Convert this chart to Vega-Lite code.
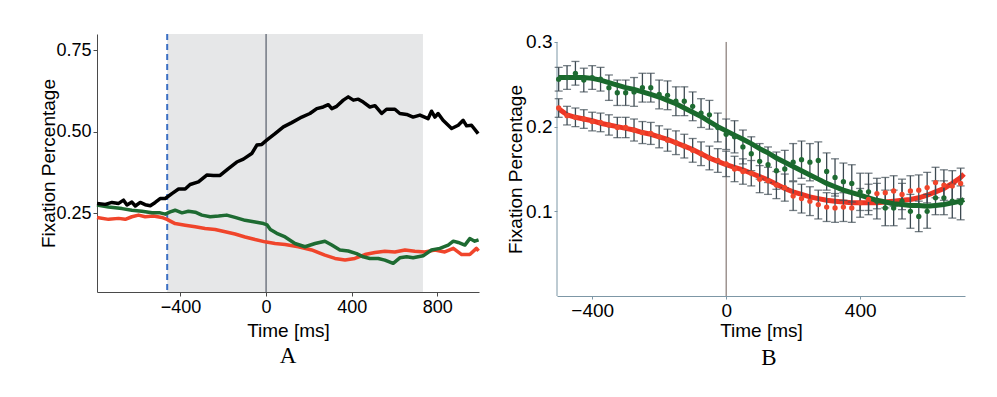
{
  "$schema": "https://vega.github.io/schema/vega-lite/v6.json",
  "background": "white",
  "padding": {"left": 38, "top": 32, "right": 10, "bottom": 10},
  "columns": 2,
  "align": "none",
  "spacing": 24,
  "datasets": {
    "a": [
      {"s":"red","t":-790,"v":0.237},{"s":"red","t":-736,"v":0.231},{"s":"red","t":-689,"v":0.234},{"s":"red","t":-658,"v":0.231},{"s":"red","t":-627,"v":0.239},{"s":"red","t":-596,"v":0.244},{"s":"red","t":-565,"v":0.239},{"s":"red","t":-526,"v":0.241},{"s":"red","t":-487,"v":0.237},{"s":"red","t":-463,"v":0.231},{"s":"red","t":-425,"v":0.218},{"s":"red","t":-378,"v":0.213},{"s":"red","t":-331,"v":0.208},{"s":"red","t":-285,"v":0.203},{"s":"red","t":-238,"v":0.200},{"s":"red","t":-191,"v":0.193},{"s":"red","t":-145,"v":0.186},{"s":"red","t":-98,"v":0.177},{"s":"red","t":-51,"v":0.169},{"s":"red","t":-5,"v":0.162},{"s":"red","t":42,"v":0.157},{"s":"red","t":89,"v":0.154},{"s":"red","t":151,"v":0.147},{"s":"red","t":213,"v":0.137},{"s":"red","t":275,"v":0.121},{"s":"red","t":322,"v":0.111},{"s":"red","t":369,"v":0.106},{"s":"red","t":415,"v":0.111},{"s":"red","t":462,"v":0.123},{"s":"red","t":509,"v":0.129},{"s":"red","t":555,"v":0.133},{"s":"red","t":602,"v":0.131},{"s":"red","t":649,"v":0.137},{"s":"red","t":695,"v":0.133},{"s":"red","t":742,"v":0.131},{"s":"red","t":789,"v":0.137},{"s":"red","t":835,"v":0.131},{"s":"red","t":875,"v":0.142},{"s":"red","t":914,"v":0.123},{"s":"red","t":952,"v":0.123},{"s":"red","t":983,"v":0.142},{"s":"red","t":993,"v":0.134},
      {"s":"green","t":-790,"v":0.275},{"s":"green","t":-736,"v":0.269},{"s":"green","t":-673,"v":0.264},{"s":"green","t":-627,"v":0.259},{"s":"green","t":-580,"v":0.256},{"s":"green","t":-533,"v":0.251},{"s":"green","t":-495,"v":0.251},{"s":"green","t":-471,"v":0.247},{"s":"green","t":-448,"v":0.254},{"s":"green","t":-425,"v":0.259},{"s":"green","t":-393,"v":0.251},{"s":"green","t":-363,"v":0.256},{"s":"green","t":-331,"v":0.253},{"s":"green","t":-300,"v":0.244},{"s":"green","t":-261,"v":0.239},{"s":"green","t":-222,"v":0.241},{"s":"green","t":-184,"v":0.244},{"s":"green","t":-145,"v":0.237},{"s":"green","t":-98,"v":0.228},{"s":"green","t":-51,"v":0.223},{"s":"green","t":-12,"v":0.218},{"s":"green","t":5,"v":0.214},{"s":"green","t":20,"v":0.200},{"s":"green","t":50,"v":0.188},{"s":"green","t":89,"v":0.177},{"s":"green","t":112,"v":0.167},{"s":"green","t":135,"v":0.157},{"s":"green","t":182,"v":0.147},{"s":"green","t":229,"v":0.157},{"s":"green","t":275,"v":0.164},{"s":"green","t":307,"v":0.152},{"s":"green","t":345,"v":0.137},{"s":"green","t":384,"v":0.134},{"s":"green","t":423,"v":0.126},{"s":"green","t":454,"v":0.116},{"s":"green","t":485,"v":0.111},{"s":"green","t":524,"v":0.111},{"s":"green","t":555,"v":0.106},{"s":"green","t":594,"v":0.096},{"s":"green","t":625,"v":0.113},{"s":"green","t":657,"v":0.116},{"s":"green","t":687,"v":0.113},{"s":"green","t":734,"v":0.119},{"s":"green","t":773,"v":0.137},{"s":"green","t":812,"v":0.142},{"s":"green","t":851,"v":0.152},{"s":"green","t":875,"v":0.164},{"s":"green","t":898,"v":0.160},{"s":"green","t":929,"v":0.152},{"s":"green","t":952,"v":0.172},{"s":"green","t":975,"v":0.164},{"s":"green","t":993,"v":0.168},
      {"s":"black","t":-790,"v":0.280},{"s":"black","t":-751,"v":0.277},{"s":"black","t":-720,"v":0.283},{"s":"black","t":-689,"v":0.280},{"s":"black","t":-666,"v":0.290},{"s":"black","t":-650,"v":0.275},{"s":"black","t":-627,"v":0.284},{"s":"black","t":-611,"v":0.272},{"s":"black","t":-588,"v":0.283},{"s":"black","t":-565,"v":0.276},{"s":"black","t":-541,"v":0.273},{"s":"black","t":-518,"v":0.283},{"s":"black","t":-495,"v":0.295},{"s":"black","t":-471,"v":0.295},{"s":"black","t":-440,"v":0.310},{"s":"black","t":-409,"v":0.324},{"s":"black","t":-378,"v":0.324},{"s":"black","t":-355,"v":0.338},{"s":"black","t":-316,"v":0.346},{"s":"black","t":-277,"v":0.367},{"s":"black","t":-246,"v":0.366},{"s":"black","t":-215,"v":0.366},{"s":"black","t":-176,"v":0.387},{"s":"black","t":-137,"v":0.407},{"s":"black","t":-106,"v":0.416},{"s":"black","t":-67,"v":0.433},{"s":"black","t":-43,"v":0.459},{"s":"black","t":-20,"v":0.461},{"s":"black","t":3,"v":0.474},{"s":"black","t":42,"v":0.494},{"s":"black","t":81,"v":0.515},{"s":"black","t":120,"v":0.528},{"s":"black","t":167,"v":0.545},{"s":"black","t":205,"v":0.556},{"s":"black","t":237,"v":0.571},{"s":"black","t":267,"v":0.576},{"s":"black","t":291,"v":0.583},{"s":"black","t":307,"v":0.571},{"s":"black","t":330,"v":0.578},{"s":"black","t":361,"v":0.597},{"s":"black","t":384,"v":0.607},{"s":"black","t":408,"v":0.597},{"s":"black","t":431,"v":0.600},{"s":"black","t":454,"v":0.591},{"s":"black","t":485,"v":0.576},{"s":"black","t":509,"v":0.580},{"s":"black","t":540,"v":0.556},{"s":"black","t":563,"v":0.569},{"s":"black","t":602,"v":0.569},{"s":"black","t":625,"v":0.556},{"s":"black","t":657,"v":0.553},{"s":"black","t":687,"v":0.545},{"s":"black","t":719,"v":0.551},{"s":"black","t":757,"v":0.540},{"s":"black","t":773,"v":0.563},{"s":"black","t":789,"v":0.545},{"s":"black","t":804,"v":0.556},{"s":"black","t":827,"v":0.535},{"s":"black","t":867,"v":0.510},{"s":"black","t":898,"v":0.520},{"s":"black","t":921,"v":0.535},{"s":"black","t":937,"v":0.518},{"s":"black","t":960,"v":0.520},{"s":"black","t":991,"v":0.494}
    ],
    "bpts": [
      {"s":"red","t":-500,"v":0.222,"lo":0.211,"hi":0.233},{"s":"red","t":-475,"v":0.213,"lo":0.202,"hi":0.224},{"s":"red","t":-450,"v":0.211,"lo":0.200,"hi":0.222},{"s":"red","t":-425,"v":0.209,"lo":0.198,"hi":0.220},{"s":"red","t":-400,"v":0.206,"lo":0.195,"hi":0.217},{"s":"red","t":-375,"v":0.205,"lo":0.194,"hi":0.216},{"s":"red","t":-350,"v":0.202,"lo":0.190,"hi":0.214},{"s":"red","t":-325,"v":0.199,"lo":0.187,"hi":0.211},{"s":"red","t":-300,"v":0.199,"lo":0.187,"hi":0.211},{"s":"red","t":-275,"v":0.196,"lo":0.183,"hi":0.209},{"s":"red","t":-250,"v":0.193,"lo":0.180,"hi":0.206},{"s":"red","t":-225,"v":0.192,"lo":0.179,"hi":0.205},{"s":"red","t":-200,"v":0.188,"lo":0.175,"hi":0.201},{"s":"red","t":-175,"v":0.184,"lo":0.171,"hi":0.197},{"s":"red","t":-150,"v":0.181,"lo":0.167,"hi":0.195},{"s":"red","t":-125,"v":0.177,"lo":0.163,"hi":0.191},{"s":"red","t":-100,"v":0.172,"lo":0.158,"hi":0.186},{"s":"red","t":-75,"v":0.168,"lo":0.154,"hi":0.182},{"s":"red","t":-50,"v":0.163,"lo":0.149,"hi":0.177},{"s":"red","t":-25,"v":0.160,"lo":0.146,"hi":0.174},{"s":"red","t":0,"v":0.156,"lo":0.141,"hi":0.171},{"s":"red","t":25,"v":0.150,"lo":0.135,"hi":0.165},{"s":"red","t":50,"v":0.147,"lo":0.132,"hi":0.162},{"s":"red","t":75,"v":0.145,"lo":0.130,"hi":0.160},{"s":"red","t":100,"v":0.138,"lo":0.122,"hi":0.154},{"s":"red","t":125,"v":0.136,"lo":0.120,"hi":0.152},{"s":"red","t":150,"v":0.131,"lo":0.115,"hi":0.147},{"s":"red","t":175,"v":0.128,"lo":0.112,"hi":0.144},{"s":"red","t":200,"v":0.118,"lo":0.101,"hi":0.135},{"s":"red","t":225,"v":0.115,"lo":0.098,"hi":0.132},{"s":"red","t":250,"v":0.112,"lo":0.095,"hi":0.129},{"s":"red","t":275,"v":0.108,"lo":0.091,"hi":0.125},{"s":"red","t":300,"v":0.105,"lo":0.088,"hi":0.122},{"s":"red","t":325,"v":0.104,"lo":0.087,"hi":0.121},{"s":"red","t":350,"v":0.105,"lo":0.088,"hi":0.122},{"s":"red","t":375,"v":0.104,"lo":0.087,"hi":0.121},{"s":"red","t":400,"v":0.110,"lo":0.093,"hi":0.127},{"s":"red","t":425,"v":0.114,"lo":0.096,"hi":0.132},{"s":"red","t":450,"v":0.121,"lo":0.103,"hi":0.139},{"s":"red","t":475,"v":0.122,"lo":0.104,"hi":0.140},{"s":"red","t":500,"v":0.124,"lo":0.106,"hi":0.142},{"s":"red","t":525,"v":0.120,"lo":0.102,"hi":0.138},{"s":"red","t":550,"v":0.124,"lo":0.106,"hi":0.142},{"s":"red","t":575,"v":0.125,"lo":0.107,"hi":0.143},{"s":"red","t":600,"v":0.128,"lo":0.110,"hi":0.146},{"s":"red","t":625,"v":0.134,"lo":0.116,"hi":0.152},{"s":"red","t":650,"v":0.131,"lo":0.113,"hi":0.149},{"s":"red","t":675,"v":0.130,"lo":0.112,"hi":0.148},{"s":"red","t":700,"v":0.133,"lo":0.115,"hi":0.151},
      {"s":"green","t":-500,"v":0.256,"lo":0.242,"hi":0.270},{"s":"green","t":-475,"v":0.258,"lo":0.244,"hi":0.272},{"s":"green","t":-450,"v":0.263,"lo":0.249,"hi":0.277},{"s":"green","t":-425,"v":0.255,"lo":0.241,"hi":0.269},{"s":"green","t":-400,"v":0.258,"lo":0.244,"hi":0.272},{"s":"green","t":-375,"v":0.256,"lo":0.242,"hi":0.270},{"s":"green","t":-350,"v":0.246,"lo":0.231,"hi":0.261},{"s":"green","t":-325,"v":0.240,"lo":0.225,"hi":0.255},{"s":"green","t":-300,"v":0.240,"lo":0.225,"hi":0.255},{"s":"green","t":-275,"v":0.241,"lo":0.224,"hi":0.258},{"s":"green","t":-250,"v":0.246,"lo":0.229,"hi":0.263},{"s":"green","t":-225,"v":0.246,"lo":0.229,"hi":0.263},{"s":"green","t":-200,"v":0.238,"lo":0.221,"hi":0.255},{"s":"green","t":-175,"v":0.237,"lo":0.220,"hi":0.254},{"s":"green","t":-150,"v":0.230,"lo":0.213,"hi":0.247},{"s":"green","t":-125,"v":0.230,"lo":0.213,"hi":0.247},{"s":"green","t":-100,"v":0.224,"lo":0.207,"hi":0.241},{"s":"green","t":-75,"v":0.216,"lo":0.199,"hi":0.233},{"s":"green","t":-50,"v":0.214,"lo":0.197,"hi":0.231},{"s":"green","t":-25,"v":0.199,"lo":0.182,"hi":0.216},{"s":"green","t":0,"v":0.191,"lo":0.173,"hi":0.209},{"s":"green","t":25,"v":0.188,"lo":0.169,"hi":0.207},{"s":"green","t":50,"v":0.176,"lo":0.156,"hi":0.196},{"s":"green","t":75,"v":0.168,"lo":0.148,"hi":0.188},{"s":"green","t":100,"v":0.159,"lo":0.138,"hi":0.180},{"s":"green","t":125,"v":0.155,"lo":0.134,"hi":0.176},{"s":"green","t":150,"v":0.148,"lo":0.126,"hi":0.170},{"s":"green","t":175,"v":0.150,"lo":0.128,"hi":0.172},{"s":"green","t":200,"v":0.158,"lo":0.136,"hi":0.180},{"s":"green","t":225,"v":0.161,"lo":0.139,"hi":0.183},{"s":"green","t":250,"v":0.158,"lo":0.136,"hi":0.180},{"s":"green","t":275,"v":0.160,"lo":0.138,"hi":0.182},{"s":"green","t":300,"v":0.147,"lo":0.125,"hi":0.169},{"s":"green","t":325,"v":0.140,"lo":0.118,"hi":0.162},{"s":"green","t":350,"v":0.135,"lo":0.113,"hi":0.157},{"s":"green","t":375,"v":0.133,"lo":0.111,"hi":0.155},{"s":"green","t":400,"v":0.123,"lo":0.101,"hi":0.145},{"s":"green","t":425,"v":0.123,"lo":0.101,"hi":0.145},{"s":"green","t":450,"v":0.112,"lo":0.091,"hi":0.133},{"s":"green","t":475,"v":0.104,"lo":0.083,"hi":0.125},{"s":"green","t":500,"v":0.104,"lo":0.083,"hi":0.125},{"s":"green","t":525,"v":0.112,"lo":0.091,"hi":0.133},{"s":"green","t":550,"v":0.100,"lo":0.080,"hi":0.120},{"s":"green","t":575,"v":0.094,"lo":0.076,"hi":0.112},{"s":"green","t":600,"v":0.100,"lo":0.080,"hi":0.120},{"s":"green","t":625,"v":0.116,"lo":0.096,"hi":0.136},{"s":"green","t":650,"v":0.116,"lo":0.096,"hi":0.136},{"s":"green","t":675,"v":0.112,"lo":0.092,"hi":0.132},{"s":"green","t":700,"v":0.110,"lo":0.090,"hi":0.130}
    ],
    "bfit": [
      {"s":"red","t":-500,"v":0.221},{"s":"red","t":-475,"v":0.214},{"s":"red","t":-450,"v":0.211},{"s":"red","t":-425,"v":0.209},{"s":"red","t":-400,"v":0.207},{"s":"red","t":-375,"v":0.204},{"s":"red","t":-350,"v":0.202},{"s":"red","t":-325,"v":0.200},{"s":"red","t":-300,"v":0.198},{"s":"red","t":-275,"v":0.196},{"s":"red","t":-250,"v":0.193},{"s":"red","t":-225,"v":0.191},{"s":"red","t":-200,"v":0.188},{"s":"red","t":-175,"v":0.185},{"s":"red","t":-150,"v":0.181},{"s":"red","t":-125,"v":0.177},{"s":"red","t":-100,"v":0.173},{"s":"red","t":-75,"v":0.168},{"s":"red","t":-50,"v":0.163},{"s":"red","t":-25,"v":0.159},{"s":"red","t":0,"v":0.155},{"s":"red","t":25,"v":0.152},{"s":"red","t":50,"v":0.149},{"s":"red","t":75,"v":0.145},{"s":"red","t":100,"v":0.141},{"s":"red","t":125,"v":0.137},{"s":"red","t":150,"v":0.132},{"s":"red","t":175,"v":0.127},{"s":"red","t":200,"v":0.123},{"s":"red","t":225,"v":0.120},{"s":"red","t":250,"v":0.117},{"s":"red","t":275,"v":0.115},{"s":"red","t":300,"v":0.113},{"s":"red","t":325,"v":0.112},{"s":"red","t":350,"v":0.111},{"s":"red","t":375,"v":0.110},{"s":"red","t":400,"v":0.110},{"s":"red","t":425,"v":0.110},{"s":"red","t":450,"v":0.110},{"s":"red","t":475,"v":0.111},{"s":"red","t":500,"v":0.112},{"s":"red","t":525,"v":0.113},{"s":"red","t":550,"v":0.114},{"s":"red","t":575,"v":0.116},{"s":"red","t":600,"v":0.119},{"s":"red","t":625,"v":0.123},{"s":"red","t":650,"v":0.127},{"s":"red","t":675,"v":0.133},{"s":"red","t":700,"v":0.140},{"s":"red","t":710,"v":0.144},
      {"s":"green","t":-500,"v":0.258},{"s":"green","t":-475,"v":0.258},{"s":"green","t":-450,"v":0.258},{"s":"green","t":-425,"v":0.258},{"s":"green","t":-400,"v":0.257},{"s":"green","t":-375,"v":0.255},{"s":"green","t":-350,"v":0.252},{"s":"green","t":-325,"v":0.249},{"s":"green","t":-300,"v":0.246},{"s":"green","t":-275,"v":0.244},{"s":"green","t":-250,"v":0.241},{"s":"green","t":-225,"v":0.238},{"s":"green","t":-200,"v":0.235},{"s":"green","t":-175,"v":0.231},{"s":"green","t":-150,"v":0.227},{"s":"green","t":-125,"v":0.222},{"s":"green","t":-100,"v":0.217},{"s":"green","t":-75,"v":0.212},{"s":"green","t":-50,"v":0.206},{"s":"green","t":-25,"v":0.200},{"s":"green","t":0,"v":0.195},{"s":"green","t":25,"v":0.190},{"s":"green","t":50,"v":0.185},{"s":"green","t":75,"v":0.180},{"s":"green","t":100,"v":0.174},{"s":"green","t":125,"v":0.169},{"s":"green","t":150,"v":0.163},{"s":"green","t":175,"v":0.158},{"s":"green","t":200,"v":0.153},{"s":"green","t":225,"v":0.148},{"s":"green","t":250,"v":0.143},{"s":"green","t":275,"v":0.138},{"s":"green","t":300,"v":0.133},{"s":"green","t":325,"v":0.129},{"s":"green","t":350,"v":0.125},{"s":"green","t":375,"v":0.122},{"s":"green","t":400,"v":0.119},{"s":"green","t":425,"v":0.116},{"s":"green","t":450,"v":0.113},{"s":"green","t":475,"v":0.111},{"s":"green","t":500,"v":0.109},{"s":"green","t":525,"v":0.108},{"s":"green","t":550,"v":0.107},{"s":"green","t":575,"v":0.107},{"s":"green","t":600,"v":0.106},{"s":"green","t":625,"v":0.107},{"s":"green","t":650,"v":0.108},{"s":"green","t":675,"v":0.110},{"s":"green","t":700,"v":0.112},{"s":"green","t":710,"v":0.114}
    ]
  },
  "concat": [
    {
      "width": 382,
      "height": 258,
      "title": {"text": "A", "orient": "bottom", "frame": "group", "font": "Liberation Serif", "fontSize": 23, "fontWeight": "normal", "color": "#000000", "offset": 5},
      "encoding": {
        "x": {"field": "t", "type": "quantitative",
          "scale": {"domain": [-790, 995], "nice": false, "zero": false},
          "axis": {"values": [-400, 0, 400, 800], "title": "Time [ms]", "titleY": 38, "titleBaseline": "middle", "labelFontSize": 18, "titleFontSize": 19, "domainColor": "#4a4a4a", "tickColor": "#4a4a4a", "tickSize": 4}}
      },
      "layer": [
        {"data": {"values": [{"t": -462, "t2": 733}]}, "mark": {"type": "rect", "color": "#e6e7e8"}, "encoding": {"x2": {"field": "t2"}}},
        {"data": {"values": [{"t": -462}]}, "mark": {"type": "rule", "color": "#3b6fc4", "strokeWidth": 2, "strokeDash": [6, 4]}, "encoding": {}},
        {"data": {"values": [{"t": 0}]}, "mark": {"type": "rule", "color": "#3a4250", "strokeWidth": 1}, "encoding": {}},
        {"data": {"name": "a"}, "mark": {"type": "line", "strokeWidth": 3.5, "strokeJoin": "round"},
          "encoding": {
            "y": {"field": "v", "type": "quantitative", "scale": {"domain": [0.008, 0.8], "nice": false, "zero": false},
              "axis": {"values": [0.25, 0.5, 0.75], "format": ".2f", "title": "Fixation Percentage", "titleX": -49, "titleY": 129, "titleBaseline": "middle", "labelFontSize": 18, "titleFontSize": 19, "domainColor": "#4a4a4a", "tickColor": "#4a4a4a", "tickSize": 4}},
            "color": {"field": "s", "type": "nominal", "scale": {"domain": ["red", "green", "black"], "range": ["#f0452b", "#1e6b32", "#000000"]}, "legend": null}
          }}
      ]
    },
    {
      "width": 408,
      "height": 262,
      "title": {"text": "B", "orient": "bottom", "frame": "group", "font": "Liberation Serif", "fontSize": 23, "fontWeight": "normal", "color": "#000000", "offset": 7, "dx": 8},
      "encoding": {
        "x": {"field": "t", "type": "quantitative",
          "scale": {"domain": [-505, 713], "nice": false, "zero": false},
          "axis": {"values": [-400, 0, 400], "title": "Time [ms]", "titleY": 34, "titleBaseline": "middle", "labelFontSize": 19, "titleFontSize": 19, "domainColor": "#7d97a6", "tickColor": "#7d97a6", "tickSize": 3}}
      },
      "layer": [
        {"data": {"values": [{"t": -505, "y0": 0, "y1": 0.3}]}, "mark": {"type": "rule", "color": "#7d97a6", "strokeWidth": 1},
          "encoding": {"y": {"field": "y0", "type": "quantitative", "scale": {"domain": [0, 0.3094], "nice": false, "zero": false},
            "axis": {"values": [0.1, 0.2, 0.3], "format": ".1f", "domain": false, "title": "Fixation Percentage", "titleX": -42, "titleY": 135, "titleBaseline": "middle", "labelFontSize": 19, "titleFontSize": 19, "tickColor": "#7d97a6", "tickSize": 3}},
            "y2": {"field": "y1"}}},
        {"data": {"values": [{"t": 0, "y0": 0, "y1": 0.3}]}, "mark": {"type": "rule", "color": "#6e5e5a", "strokeWidth": 1},
          "encoding": {"y": {"field": "y0", "type": "quantitative", "title": "Fixation Percentage"}, "y2": {"field": "y1"}}},
        {"data": {"name": "bfit"}, "transform": [{"filter": "datum.s == 'red'"}], "mark": {"type": "line", "strokeWidth": 5, "color": "#ee3524"},
          "encoding": {"y": {"field": "v", "type": "quantitative", "title": "Fixation Percentage"}}},
        {"data": {"name": "bpts"}, "mark": {"type": "errorbar", "ticks": {"size": 8}, "thickness": 1.3, "color": "#3d4a52"},
          "encoding": {"y": {"field": "lo", "type": "quantitative", "title": "Fixation Percentage"}, "y2": {"field": "hi"}}},
        {"data": {"name": "bfit"}, "transform": [{"filter": "datum.s == 'green'"}], "mark": {"type": "line", "strokeWidth": 5, "color": "#19692c"},
          "encoding": {"y": {"field": "v", "type": "quantitative", "title": "Fixation Percentage"}}},
        {"data": {"name": "bpts"}, "mark": {"type": "circle", "size": 28, "opacity": 1},
          "encoding": {"y": {"field": "v", "type": "quantitative", "title": "Fixation Percentage"},
            "color": {"field": "s", "type": "nominal", "scale": {"domain": ["red", "green"], "range": ["#f0544a", "#17662a"]}, "legend": null}}}
      ]
    }
  ],
  "config": {
    "view": {"stroke": null},
    "axis": {"labelFont": "Liberation Sans", "titleFont": "Liberation Sans", "labelColor": "#000000", "titleColor": "#000000", "titleFontWeight": "normal", "grid": false, "labelPadding": 2}
  }
}
